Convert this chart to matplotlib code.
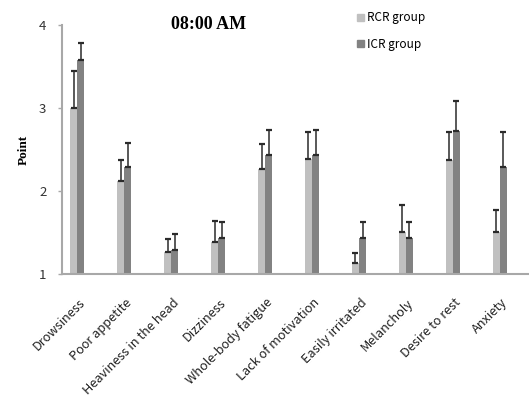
import numpy as np
import matplotlib
matplotlib.use("Agg")
import matplotlib.pyplot as plt
from matplotlib.patches import Patch
import matplotlib.transforms as mtransforms

# -----------------------------
# Data
# -----------------------------
symptoms = ["Drowsiness", "Poor appetite", "Heaviness in the head", "Dizziness",
            "Whole-body fatigue", "Lack of motivation", "Easily irritated",
            "Melancholy", "Desire to rest", "Anxiety"]
rcr_mean = [3.00, 2.12, 1.26, 1.38, 2.26, 2.38, 1.13, 1.51, 2.37, 1.51]
rcr_top = [3.44, 2.37, 1.42, 1.64, 2.57, 2.71, 1.25, 1.83, 2.71, 1.77]
icr_mean = [3.58, 2.29, 1.29, 1.43, 2.43, 2.43, 1.44, 1.44, 2.72, 2.29]
icr_top = [3.78, 2.58, 1.48, 1.63, 2.73, 2.73, 1.63, 1.63, 3.08, 2.71]
y_ticks = [1, 2, 3, 4]

RCR_COLOR = "#c0c0c0"
ICR_COLOR = "#828282"
ERR_COLOR = "#2b2b2b"
SPINE_COLOR = "#a8a8a8"
GOTHIC = ["Noto Sans CJK JP", "DejaVu Sans"]

# -----------------------------
# Figure layout
# -----------------------------
fig = plt.figure(figsize=(5.29, 4.03), dpi=100)
ax = fig.add_axes([0.1166, 0.32, 0.8834, 0.618])

x = np.arange(len(symptoms))
w = 0.15

rcr_err = np.array(rcr_top) - np.array(rcr_mean)
icr_err = np.array(icr_top) - np.array(icr_mean)

ax.bar(x - w / 2, np.array(rcr_mean) - 1, w, bottom=1, color=RCR_COLOR,
       label="RCR group", zorder=2)
ax.bar(x + w / 2, np.array(icr_mean) - 1, w, bottom=1, color=ICR_COLOR,
       label="ICR group", zorder=2)

ax.errorbar(x - w / 2, rcr_mean, yerr=[np.zeros_like(rcr_err), rcr_err],
            fmt="none", ecolor=ERR_COLOR, elinewidth=1.1, capsize=2.5,
            capthick=1.6, zorder=3)
ax.errorbar(x + w / 2, icr_mean, yerr=[np.zeros_like(icr_err), icr_err],
            fmt="none", ecolor=ERR_COLOR, elinewidth=1.1, capsize=2.5,
            capthick=1.6, zorder=3)

ax.set_xlim(-0.33, 9.62)
ax.set_ylim(1, 4)
ax.set_yticks(y_ticks)
ax.set_yticklabels([str(t) for t in y_ticks], family=GOTHIC, fontsize=9.5,
                   color="#333333")
ax.tick_params(axis="y", length=3, width=1, color=SPINE_COLOR, pad=8)

ax.set_xticks(x)
ax.set_xticklabels(symptoms, family=GOTHIC, fontsize=9.2, rotation=45,
                   ha="right", rotation_mode="anchor", color="#222222")
ax.tick_params(axis="x", length=0, pad=16)
offset = mtransforms.ScaledTranslation(1 / 100, 0, fig.dpi_scale_trans)
for lbl in ax.get_xticklabels():
    lbl.set_transform(lbl.get_transform() + offset)

for side in ("top", "right"):
    ax.spines[side].set_visible(False)
for side in ("left", "bottom"):
    ax.spines[side].set_color(SPINE_COLOR)
    ax.spines[side].set_linewidth(1.5)

ax.set_ylabel("Point", family="Liberation Serif", fontweight="bold",
              fontsize=9.5, labelpad=7)

fig.text(0.395, 0.94, "08:00 AM", family="Liberation Serif",
         fontweight="bold", fontsize=13, ha="center", va="center")

handles = [Patch(color=RCR_COLOR, label="RCR group"),
           Patch(color=ICR_COLOR, label="ICR group")]
fig.legend(handles=handles, loc="upper left", bbox_to_anchor=(0.655, 0.998),
           frameon=False, prop={"family": GOTHIC, "size": 8.5},
           handlelength=0.55, handleheight=0.55, handletextpad=0.3,
           labelspacing=1.15)

fig.savefig("out.png", dpi=100)
